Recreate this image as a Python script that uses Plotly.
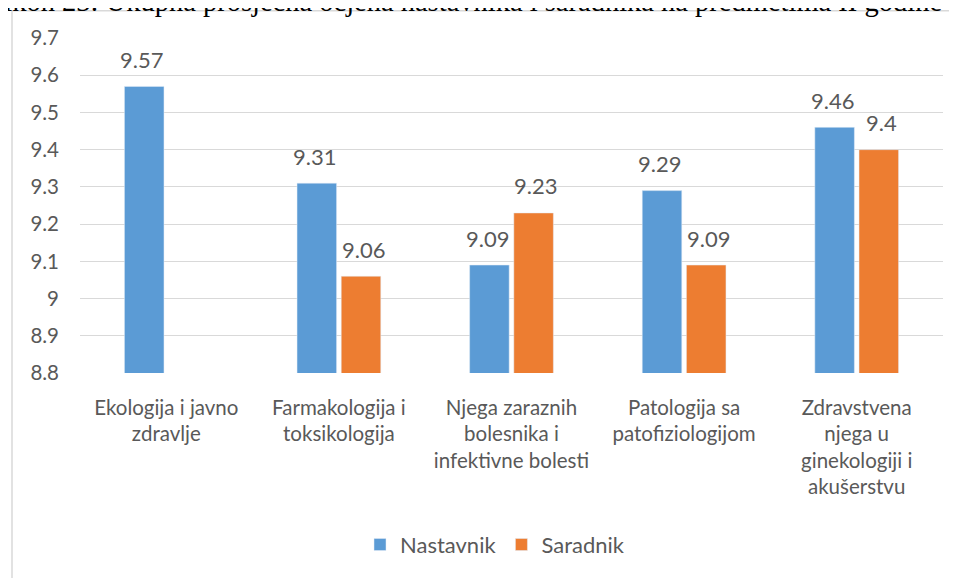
import plotly.graph_objects as go

categories = [
    "Ekologija i javno<br>zdravlje",
    "Farmakologija i<br>toksikologija",
    "Njega zaraznih<br>bolesnika i<br>infektivne bolesti",
    "Patologija sa<br>patofiziologijom",
    "Zdravstvena<br>njega u<br>ginekologiji i<br>akušerstvu",
]
nastavnik = [9.57, 9.31, 9.09, 9.29, 9.46]
saradnik = [None, 9.06, 9.23, 9.09, 9.40]
tick_vals = [8.8, 8.9, 9.0, 9.1, 9.2, 9.3, 9.4, 9.5, 9.6, 9.7]
tick_text = ["8.8", "8.9", "9", "9.1", "9.2", "9.3", "9.4", "9.5", "9.6", "9.7"]
title_text = "Grafikon 23: Ukupna prosječna ocjena nastavnika i saradnika na predmetima II godine Studija"

BLUE = "#5B9BD5"
ORANGE = "#ED7D31"
TXT = "#595959"
FONT = "Lato"

OFF = 8  # page body margin
W, H = 957 - OFF, 578 - OFF
L, R, T, B = 80 - OFF, 943 - OFF, 37.5 - OFF, 375 - OFF
PW, PH = R - L, B - T

def px_x(x):  # page pixel -> paper
    return (x - OFF - L) / PW

def px_y(y):
    return (B - (y - OFF)) / PH

fig = go.Figure()
fig.add_trace(go.Bar(name="Nastavnik", x=categories, y=nastavnik, marker_color=BLUE))
fig.add_trace(go.Bar(name="Saradnik", x=categories, y=saradnik, marker_color=ORANGE))

annotations = []
for series, shift in ((nastavnik, -24.4), (saradnik, 24.4)):
    for c, v in zip(categories, series):
        if v is None:
            continue
        annotations.append(dict(
            x=c, y=v, xref="x", yref="y", text=f"{v:g}", showarrow=False,
            xshift=shift, yshift=27, yanchor="middle",
            font=dict(family=FONT, size=22, color=TXT),
        ))

annotations.append(dict(
    x=px_x(-50), y=px_y(18.5), xref="paper", yref="paper", xanchor="left", yanchor="bottom",
    text=title_text, showarrow=False,
    font=dict(family="Liberation Serif", size=28.5, color="#000000"),
))

fig.update_layout(
    width=W, height=H,
    margin=dict(l=L, r=W - R, t=T, b=H - B, pad=0),
    paper_bgcolor="white", plot_bgcolor="white",
    barmode="group", bargap=0.488, bargroupgap=0.105,
    font=dict(family=FONT, size=21, color=TXT),
    showlegend=True,
    legend=dict(orientation="h", x=px_x(495), xanchor="center", y=px_y(548), yanchor="middle",
                font=dict(family=FONT, size=22, color=TXT), traceorder="normal"),
    annotations=annotations,
    shapes=[dict(type="rect", xref="paper", yref="paper",
                 x0=px_x(12), x1=px_x(990), y0=px_y(620), y1=px_y(10),
                 line=dict(color="#D9D9D9", width=1.5), layer="below")],
    xaxis=dict(showgrid=False, showline=False, ticks="", tickfont=dict(family=FONT, size=20.5, color=TXT),
               ticklabelstandoff=20),
    yaxis=dict(range=[8.8, 9.7], tickvals=tick_vals, ticktext=tick_text, showgrid=True,
               gridcolor="#D9D9D9", gridwidth=1.3, zeroline=False, showline=False, ticks="",
               tickfont=dict(family=FONT, size=20.5, color=TXT), ticklabelstandoff=20),
)

fig.write_html("out.html")
